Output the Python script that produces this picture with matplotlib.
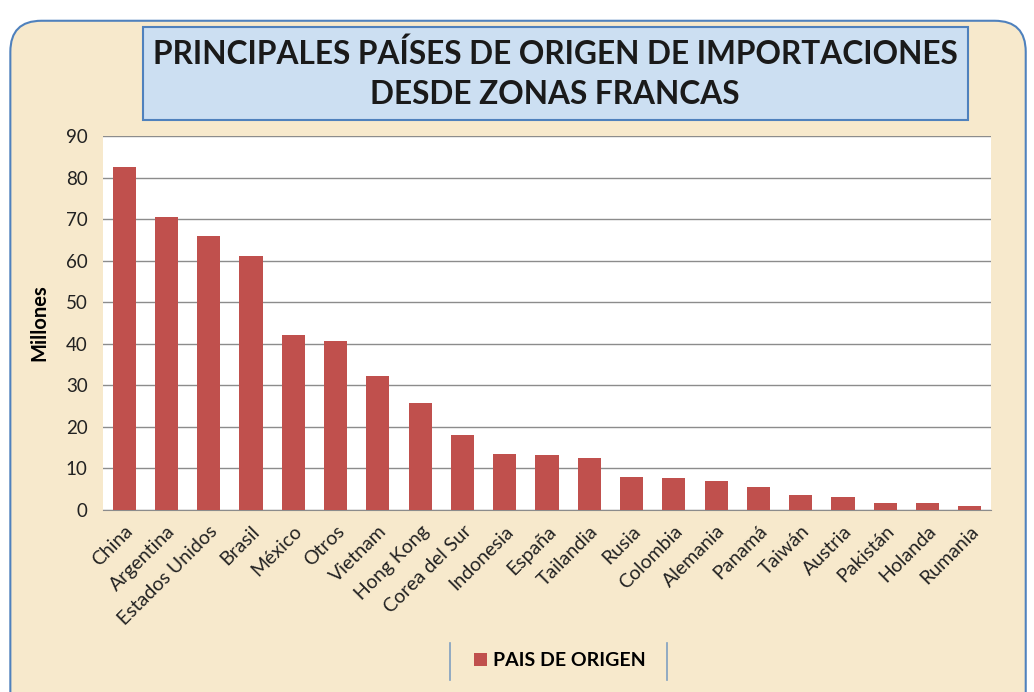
import matplotlib.pyplot as plt
from matplotlib.patches import FancyBboxPatch, Rectangle
from matplotlib.lines import Line2D

# ==== Datos ====
paises = ["China", "Argentina", "Estados Unidos", "Brasil", "México", "Otros",
          "Vietnam", "Hong Kong", "Corea del Sur", "Indonesia", "España",
          "Tailandia", "Rusia", "Colombia", "Alemania", "Panamá", "Taiwán",
          "Austria", "Pakistán", "Holanda", "Rumania"]
millones = [82.5, 70.5, 65.9, 61.1, 42.1, 40.7, 32.2, 25.7, 18.0, 13.5, 13.2,
            12.4, 8.0, 7.8, 7.0, 5.6, 3.7, 3.2, 1.6, 1.6, 1.0]
yticks = [0, 10, 20, 30, 40, 50, 60, 70, 80, 90]

plt.rcParams['font.family'] = ['Lato', 'DejaVu Sans']

fondo = "#F7E9CC"
rojo = "#C0504D"

fig = plt.figure(figsize=(10.34, 6.92), dpi=100)
fig.patch.set_facecolor("white")

# marco redondeado exterior (detrás de todo)
marco = FancyBboxPatch((0.010, -0.05), 0.982, 1.02, boxstyle="round,pad=0,rounding_size=0.03",
                       transform=fig.transFigure, facecolor=fondo, edgecolor="#4F81BD",
                       linewidth=1.5, mutation_aspect=1034 / 692, zorder=-10)
fig.patches.append(marco)

# caja del título
caja = Rectangle((143 / 1034, 1 - 120 / 692), (968 - 143) / 1034, (120 - 27) / 692,
                 transform=fig.transFigure, facecolor="#CCDFF2", edgecolor="#4F81BD",
                 linewidth=1.5, zorder=-5)
fig.patches.append(caja)
fig.text(555 / 1034, 1 - 54 / 692, "PRINCIPALES PAÍSES DE ORIGEN DE IMPORTACIONES",
         ha="center", va="center", fontsize=22.8, fontweight="bold", color="#1a1a1a")
fig.text(555 / 1034, 1 - 95 / 692, "DESDE ZONAS FRANCAS",
         ha="center", va="center", fontsize=22.8, fontweight="bold", color="#1a1a1a")

ax = fig.add_axes([103 / 1034, 1 - 510 / 692, (991 - 103) / 1034, (510 - 136) / 692])
ax.set_facecolor("white")
x = range(len(paises))
ax.bar(x, millones, width=0.55, color=rojo, zorder=3, label="PAIS DE ORIGEN")
ax.set_xlim(-0.5, len(paises) - 0.5)
ax.set_ylim(0, 90)
ax.set_yticks(yticks)
ax.yaxis.grid(True, color="#8C8C8C", linewidth=1, zorder=0)
ax.set_axisbelow(True)
ax.set_xticks(list(x))
ax.set_xticklabels(paises, rotation=45, ha="right", rotation_mode="anchor", fontsize=14)
ax.tick_params(axis="both", length=0, colors="#222222")
ax.tick_params(axis="y", labelsize=13.5, pad=11)
ax.tick_params(axis="x", pad=9)
for s in ["top", "right", "left"]:
    ax.spines[s].set_visible(False)
ax.spines["bottom"].set_color("#8C8C8C")
ax.set_ylabel("Millones", fontsize=14.5, fontweight="bold", labelpad=12)

leg = ax.legend(loc="center", bbox_to_anchor=(560 / 1034, 1 - 661 / 692),
                bbox_transform=fig.transFigure, frameon=False, fontsize=14,
                handlelength=0.65, handleheight=0.65, handletextpad=0.35)
for t in leg.get_texts():
    t.set_fontweight("bold")
for xl in [450, 667]:
    fig.lines.append(Line2D([xl / 1034, xl / 1034], [1 - 643 / 692, 1 - 680 / 692],
                            transform=fig.transFigure, color="#7F9FC0", linewidth=1.2))

fig.savefig("out.png", dpi=100, facecolor=fig.get_facecolor())
